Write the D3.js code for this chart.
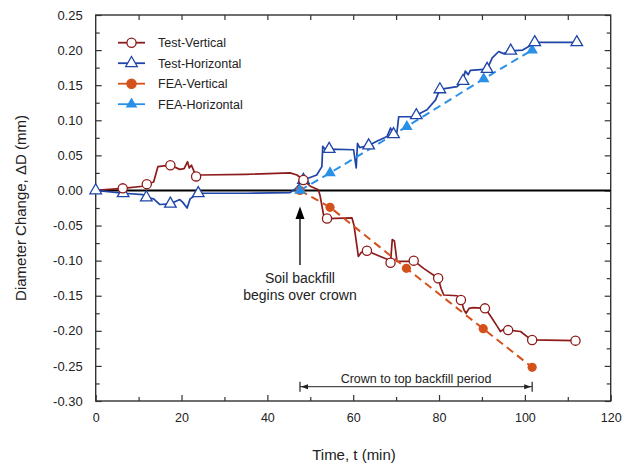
<!DOCTYPE html>
<html>
<head>
<meta charset="utf-8">
<script src="https://d3js.org/d3.v7.min.js"></script>
<style>
    body { margin: 0; background: #fff; }
    svg text { font-family: "Liberation Sans", Arial, sans-serif; fill: #222; }
</style>
</head>
<body>
<svg id="chart" width="630" height="466"></svg>
<script>
// ---------------- data ----------------
const xTicks = [0, 20, 40, 60, 80, 100, 120];
const yTicks = [-0.30, -0.25, -0.20, -0.15, -0.10, -0.05, 0.00, 0.05, 0.10, 0.15, 0.20, 0.25];

// Test-Vertical trace [t, dD]
const testVertLine = [[0,0],[6.3,0.003],[11,0.006],[11.9,0.009],[13.5,0.012],[14.5,0.034],[17.4,0.036],
    [19.6,0.030],[20.6,0.031],[21.4,0.041],[21.8,0.032],[22.3,0.036],[23.4,0.020],[24.2,0.022],[35,0.023],
    [45.3,0.025],[46.9,0.022],[48.4,0.015],[50,0.006],[51.9,0.001],[52.3,-0.008],[53.1,-0.035],[53.9,-0.040],
    [59.7,-0.039],[60.2,-0.050],[61.2,-0.094],[61.9,-0.088],[63.2,-0.086],[65.5,-0.092],[68.3,-0.099],
    [68.7,-0.103],[69.1,-0.070],[69.6,-0.072],[70.2,-0.101],[72.9,-0.101],[74.1,-0.100],[76.4,-0.111],
    [79.8,-0.125],[80.5,-0.140],[81.1,-0.149],[84.2,-0.150],[85.1,-0.156],[85.8,-0.170],[86.3,-0.175],
    [87,-0.168],[88,-0.167],[90.7,-0.168],[92,-0.179],[93.6,-0.194],[94.3,-0.201],[95,-0.198],[96.1,-0.199],
    [99,-0.201],[100.9,-0.210],[101.7,-0.213],[111.8,-0.214]];
const testVertMarks = [[6.3,0.003],[11.9,0.009],[17.4,0.036],[23.4,0.020],[48.4,0.015],[53.9,-0.040],
    [63.2,-0.086],[68.7,-0.103],[74.1,-0.100],[79.8,-0.125],[85.1,-0.156],[90.7,-0.168],[96.1,-0.199],
    [101.7,-0.213],[111.8,-0.214]];

// Test-Horizontal trace
const testHorLine = [[0,0],[6.4,-0.004],[11,-0.006],[11.8,-0.010],[13.5,-0.012],[14.9,-0.020],[17.4,-0.019],
    [19.6,-0.013],[20.3,-0.017],[21.3,-0.025],[22,-0.012],[23.9,-0.004],[35,-0.004],[45.3,-0.003],
    [46.5,0.002],[48.4,0.015],[51.5,0.022],[52.7,0.034],[52.9,0.063],[53.5,0.058],[54.4,0.059],[60.1,0.058],
    [60.7,0.032],[61.0,0.067],[61.5,0.061],[63.6,0.064],[65.5,0.070],[67.9,0.077],[68.7,0.089],[69.4,0.080],
    [70.2,0.083],[70.6,0.105],[74.1,0.105],[74.7,0.107],[77.2,0.115],[79.2,0.129],[80.2,0.144],[84.2,0.148],
    [85.6,0.156],[86.1,0.170],[86.8,0.165],[87.3,0.171],[91.2,0.173],[92.4,0.189],[93.9,0.198],[95,0.195],
    [96.7,0.199],[99.5,0.200],[100.9,0.205],[102.3,0.211],[112.1,0.211]];
const testHorMarks = [[0,0],[6.4,-0.004],[11.8,-0.010],[17.4,-0.019],[23.9,-0.004],[48.4,0.015],[54.4,0.059],
    [63.6,0.064],[69.4,0.080],[74.7,0.107],[80.2,0.144],[85.6,0.156],[91.2,0.173],[96.7,0.199],[102.3,0.211],
    [112.1,0.211]];

// FEA results
const feaVert = [[47.6,0],[54.6,-0.024],[72.4,-0.111],[90.3,-0.197],[101.7,-0.252]];
const feaHor  = [[47.6,0],[54.6,0.025],[72.5,0.091],[90.4,0.159],[101.7,0.200]];

const legendNames = ["Test-Vertical", "Test-Horizontal", "FEA-Vertical", "FEA-Horizontal"];
const backfillStart = 47.6, backfillEnd = 101.7;

// ---------------- setup ----------------
const colTV = "#8e1b1b", colTH = "#1f45a8", colFV = "#d4511c", colFH = "#2a8fe6";

const svg = d3.select("#chart");
const x = d3.scaleLinear().domain([0, 120]).range([95.7, 610.7]);
const y = d3.scaleLinear().domain([-0.30, 0.25]).range([401, 15]);
const fmt = d => d.toFixed(2);

// axes, ticks pointing inward
svg.append("g").attr("class", "xax").attr("transform", `translate(0,${y(-0.30)})`)
    .call(d3.axisBottom(x).tickValues(xTicks).tickSize(-6).tickPadding(12).tickFormat(d3.format("d")));
svg.append("g").attr("transform", `translate(0,${y(-0.30)})`)
    .call(d3.axisBottom(x).tickValues(d3.range(10, 120, 20)).tickSize(-4).tickFormat(""));
svg.append("g").attr("transform", `translate(0,${y(0.25)})`)
    .call(d3.axisTop(x).tickValues(d3.range(10, 120, 10)).tickSize(-5).tickFormat(""));
svg.append("g").attr("class", "yax").attr("transform", `translate(${x(0)},0)`)
    .call(d3.axisLeft(y).tickValues(yTicks).tickSize(-6).tickPadding(13).tickFormat(fmt));
svg.append("g").attr("transform", `translate(${x(0)},0)`)
    .call(d3.axisLeft(y).tickValues(yTicks.slice(1).map(v => v - 0.025)).tickSize(-4).tickFormat(""));
svg.append("g").attr("transform", `translate(${x(120)},0)`)
    .call(d3.axisRight(y).tickValues(yTicks).tickSize(-6).tickFormat(""));
svg.append("g").attr("transform", `translate(${x(120)},0)`)
    .call(d3.axisRight(y).tickValues(yTicks.slice(1).map(v => v - 0.025)).tickSize(-4).tickFormat(""));

svg.selectAll(".domain").remove();
svg.selectAll(".tick line").attr("stroke", "#333").attr("stroke-width", 1.2);
svg.selectAll(".xax .tick text").style("font-size", "12.5px").attr("fill", "#222");
svg.selectAll(".yax .tick text").style("font-size", "13px").attr("fill", "#222");

// frame
svg.append("rect")
    .attr("x", x(0)).attr("y", y(0.25))
    .attr("width", x(120) - x(0)).attr("height", y(-0.30) - y(0.25))
    .attr("fill", "none").attr("stroke", "#333").attr("stroke-width", 1.4);

// zero line
svg.append("line")
    .attr("x1", x(0)).attr("x2", x(120)).attr("y1", y(0)).attr("y2", y(0))
    .attr("stroke", "#000").attr("stroke-width", 2);

// ---------------- series ----------------
const line = d3.line().x(d => x(d[0])).y(d => y(d[1]));

svg.append("path").datum(testVertLine).attr("d", line)
    .attr("fill", "none").attr("stroke", colTV).attr("stroke-width", 1.7).attr("stroke-linejoin", "round");
svg.append("path").datum(testHorLine).attr("d", line)
    .attr("fill", "none").attr("stroke", colTH).attr("stroke-width", 1.7).attr("stroke-linejoin", "round");
svg.append("path").datum(feaVert).attr("d", line)
    .attr("fill", "none").attr("stroke", colFV).attr("stroke-width", 2).attr("stroke-dasharray", "8,5");
svg.append("path").datum(feaHor).attr("d", line)
    .attr("fill", "none").attr("stroke", colFH).attr("stroke-width", 2).attr("stroke-dasharray", "8,5");

const tri = d3.symbol().type(d3.symbolTriangle).size(58);

svg.append("g").selectAll("circle").data(feaVert).join("circle")
    .attr("cx", d => x(d[0])).attr("cy", d => y(d[1])).attr("r", 4.6)
    .attr("fill", colFV);
svg.append("g").selectAll("path").data(feaHor).join("path")
    .attr("d", tri).attr("transform", d => `translate(${x(d[0])},${y(d[1])})`)
    .attr("fill", colFH);
svg.append("g").selectAll("path").data(testHorMarks).join("path")
    .attr("d", tri).attr("transform", d => `translate(${x(d[0])},${y(d[1])})`)
    .attr("fill", "#fff").attr("stroke", colTH).attr("stroke-width", 1.3);
svg.append("g").selectAll("circle").data(testVertMarks).join("circle")
    .attr("cx", d => x(d[0])).attr("cy", d => y(d[1])).attr("r", 4.6)
    .attr("fill", "#fff").attr("stroke", colTV).attr("stroke-width", 1.3);

// ---------------- legend ----------------
const legend = svg.append("g");
const legColors = [colTV, colTH, colFV, colFH];
legendNames.forEach((name, i) => {
    const ly = 42.7 + i * 20.5;
    legend.append("line").attr("x1", 118).attr("x2", 145).attr("y1", ly).attr("y2", ly)
        .attr("stroke", legColors[i]).attr("stroke-width", 1.8);
    if (i % 2 === 0) {
        legend.append("circle").attr("cx", 131.5).attr("cy", ly).attr("r", 4.6)
            .attr("fill", i === 0 ? "#fff" : legColors[i])
            .attr("stroke", legColors[i]).attr("stroke-width", 1.3);
    } else {
        legend.append("path").attr("d", tri).attr("transform", `translate(131.5,${ly})`)
            .attr("fill", i === 1 ? "#fff" : legColors[i])
            .attr("stroke", legColors[i]).attr("stroke-width", i === 1 ? 1.3 : 0);
    }
    legend.append("text").attr("x", 158).attr("y", ly + 4.5)
        .style("font-size", "12.5px").text(name);
});

// ---------------- annotations ----------------
const ax = x(backfillStart);
svg.append("line").attr("x1", ax).attr("x2", ax).attr("y1", 218).attr("y2", 265)
    .attr("stroke", "#000").attr("stroke-width", 1.3);
svg.append("path").attr("d", `M${ax},206.5 L${ax - 4.5},219 L${ax + 4.5},219 Z`).attr("fill", "#000");
svg.append("text").attr("x", ax).attr("y", 283).attr("text-anchor", "middle")
    .style("font-size", "14px").text("Soil backfill");
svg.append("text").attr("x", ax).attr("y", 300).attr("text-anchor", "middle")
    .style("font-size", "14px").text("begins over crown");

// period bracket
const px1 = x(backfillStart), px2 = x(backfillEnd), py = 386.7;
svg.append("line").attr("x1", px1).attr("x2", px2).attr("y1", py).attr("y2", py)
    .attr("stroke", "#222").attr("stroke-width", 1);
[px1, px2].forEach(px => {
    svg.append("line").attr("x1", px).attr("x2", px).attr("y1", py - 5).attr("y2", py + 5)
        .attr("stroke", "#222").attr("stroke-width", 1.2);
});
svg.append("path").attr("d", `M${px1 + 1},${py} L${px1 + 8},${py - 2.5} L${px1 + 8},${py + 2.5} Z`).attr("fill", "#222");
svg.append("path").attr("d", `M${px2 - 1},${py} L${px2 - 8},${py - 2.5} L${px2 - 8},${py + 2.5} Z`).attr("fill", "#222");
svg.append("text").attr("x", (px1 + px2) / 2).attr("y", 382.5).attr("text-anchor", "middle")
    .style("font-size", "12.5px").text("Crown to top backfill period");

// axis titles
svg.append("text").attr("x", 354).attr("y", 460).attr("text-anchor", "middle")
    .style("font-size", "15px").text("Time, t (min)");
svg.append("text").attr("transform", `translate(26,${(y(0.25) + y(-0.30)) / 2}) rotate(-90)`)
    .attr("text-anchor", "middle").style("font-size", "15px").text("Diameter Change, ΔD (mm)");
</script>
</body>
</html>
